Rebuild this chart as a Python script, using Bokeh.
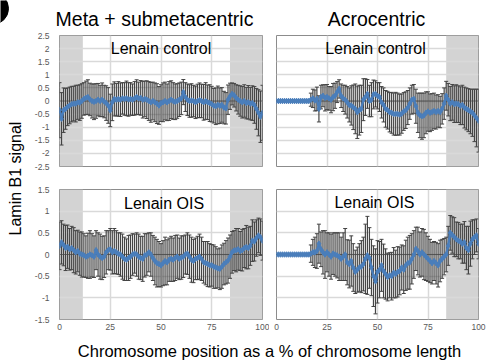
import math
from bokeh.plotting import figure
from bokeh.layouts import column, row
from bokeh.models import (Range1d, FixedTicker, NumeralTickFormatter, BoxAnnotation,
                          Span, Label, Whisker, ColumnDataSource, TeeHead)
from bokeh.embed import file_html
from bokeh.resources import INLINE

# ---------------- data ----------------
position = list(range(0, 101))  # % of chromosome length

meta_control_mean = [
    -0.35, -0.68, -0.35, -0.30, -0.22, -0.17, -0.12, -0.10, -0.10, -0.05,
    -0.06, 0.00, 0.08, 0.12, 0.15, 0.06, 0.00, -0.03, 0.00, 0.05,
    0.00, 0.05, -0.02, -0.08, -0.17, -0.36, -0.05, 0.08, 0.05, 0.08,
    0.05, 0.10, 0.08, 0.10, 0.06, 0.08, 0.05, 0.10, 0.15, 0.10,
    0.12, 0.05, 0.08, 0.05, 0.00, -0.05, 0.00, -0.05, -0.10, -0.17,
    -0.08, -0.05, 0.00, -0.05, 0.00, 0.05, 0.00, -0.03, 0.00, 0.05,
    0.10, 0.34, 0.15, 0.05, 0.00, 0.02, 0.00, -0.05, 0.00, 0.03,
    0.00, -0.05, 0.00, -0.05, -0.08, -0.12, -0.18, -0.20, -0.15, -0.18,
    -0.15, -0.25, -0.28, 0.05, 0.18, 0.27, 0.22, 0.12, 0.05, 0.00,
    -0.05, 0.00, -0.08, -0.05, -0.10, -0.08, -0.15, -0.30, -0.45, -0.60,
    -0.45]
meta_control_sd = [
    1.05, 1.00, 0.85, 0.78, 0.72, 0.70, 0.68, 0.66, 0.70, 0.65,
    0.68, 0.66, 0.62, 0.64, 0.66, 0.62, 0.65, 0.68, 0.66, 0.62,
    0.60, 0.64, 0.62, 0.66, 0.68, 0.62, 0.70, 0.65, 0.62, 0.66,
    0.64, 0.60, 0.62, 0.66, 0.64, 0.62, 0.60, 0.64, 0.66, 0.62,
    0.66, 0.70, 0.68, 0.72, 0.74, 0.76, 0.72, 0.74, 0.76, 0.72,
    0.70, 0.74, 0.72, 0.70, 0.74, 0.72, 0.70, 0.68, 0.66, 0.64,
    0.62, 0.48, 0.55, 0.60, 0.62, 0.64, 0.60, 0.62, 0.64, 0.66,
    0.64, 0.68, 0.70, 0.66, 0.70, 0.68, 0.66, 0.70, 0.72, 0.68,
    0.66, 0.62, 0.60, 0.56, 0.50, 0.42, 0.45, 0.50, 0.55, 0.58,
    0.60, 0.62, 0.60, 0.64, 0.62, 0.66, 0.70, 0.78, 0.88, 0.98,
    1.05]

acro_control_mean = [
    0, 0, 0, 0, 0, 0, 0, 0, 0, 0,
    0, 0, 0, 0, 0, 0, 0, 0.05, 0.10, 0.02,
    0.08, -0.30, 0.15, 0.20, 0.12, 0.15, 0.10, 0.05, 0.15, 0.20,
    0.34, 0.46, 0.20, 0.10, 0.05, -0.05, -0.15, -0.17, -0.24, -0.30,
    -0.43, -0.35, -0.30, 0.05, 0.15, 0.27, 0.00, 0.05, 0.25, 0.27,
    0.20, 0.15, -0.05, -0.15, -0.30, -0.35, -0.43, -0.45, -0.50, -0.49,
    -0.50, -0.52, -0.48, -0.40, -0.35, -0.25, -0.10, 0.05, 0.08, -0.20,
    -0.45, -0.55, -0.58, -0.55, -0.45, -0.40, -0.45, -0.42, -0.38, -0.42,
    -0.38, -0.42, -0.30, -0.10, 0.20, 0.05, -0.10, -0.05, -0.12, -0.10,
    -0.12, -0.18, -0.15, -0.25, -0.30, -0.35, -0.40, -0.45, -0.55, -0.65,
    -0.75]
acro_control_sd = [
    0, 0, 0, 0, 0, 0, 0, 0, 0, 0,
    0, 0, 0, 0, 0, 0, 0, 0.25, 0.35, 0.40,
    0.45, 0.50, 0.45, 0.42, 0.50, 0.48, 0.45, 0.50, 0.52, 0.48,
    0.40, 0.35, 0.45, 0.50, 0.55, 0.60, 0.65, 0.75, 0.85, 0.95,
    1.00, 0.95, 0.90, 0.80, 0.70, 0.55, 0.60, 0.65, 0.55, 0.50,
    0.50, 0.55, 0.60, 0.65, 0.70, 0.72, 0.75, 0.78, 0.80, 0.82,
    0.80, 0.78, 0.75, 0.72, 0.70, 0.65, 0.60, 0.55, 0.55, 0.65,
    0.75, 0.85, 0.88, 0.85, 0.80, 0.75, 0.72, 0.70, 0.68, 0.65,
    0.62, 0.60, 0.58, 0.60, 0.55, 0.62, 0.65, 0.68, 0.70, 0.72,
    0.70, 0.72, 0.75, 0.78, 0.80, 0.82, 0.85, 0.90, 1.00, 1.10,
    1.20]

meta_ois_mean = [
    0.20, 0.28, 0.22, 0.15, 0.18, 0.12, 0.15, 0.10, 0.05, 0.08,
    0.02, 0.00, -0.02, -0.05, -0.03, 0.00, -0.02, -0.05, 0.10, 0.00,
    -0.05, -0.08, -0.05, 0.05, 0.10, 0.12, 0.05, 0.08, 0.05, 0.02,
    0.00, -0.05, -0.10, -0.12, -0.08, -0.05, 0.00, 0.02, 0.00, -0.05,
    -0.08, -0.10, -0.02, 0.00, 0.05, 0.00, -0.08, -0.15, -0.20, -0.22,
    -0.25, -0.20, -0.15, -0.18, -0.12, -0.10, -0.12, -0.08, -0.05, -0.10,
    -0.07, -0.05, 0.00, 0.02, -0.05, -0.12, -0.15, -0.10, -0.08, -0.05,
    -0.10, -0.18, -0.20, -0.22, -0.25, -0.25, -0.28, -0.30, -0.32, -0.33,
    -0.28, -0.22, -0.18, -0.14, -0.05, 0.05, 0.09, 0.10, 0.12, 0.08,
    0.10, 0.15, 0.17, 0.15, 0.20, 0.32, 0.30, 0.38, 0.44, 0.40,
    0.32]
meta_ois_sd = [
    0.55, 0.50, 0.48, 0.52, 0.50, 0.48, 0.50, 0.52, 0.50, 0.48,
    0.50, 0.52, 0.50, 0.48, 0.52, 0.55, 0.50, 0.48, 0.45, 0.50,
    0.52, 0.50, 0.48, 0.50, 0.45, 0.48, 0.50, 0.52, 0.50, 0.48,
    0.50, 0.52, 0.50, 0.48, 0.52, 0.50, 0.48, 0.45, 0.50, 0.52,
    0.50, 0.52, 0.50, 0.48, 0.45, 0.50, 0.52, 0.55, 0.55, 0.52,
    0.50, 0.52, 0.55, 0.52, 0.50, 0.52, 0.50, 0.52, 0.50, 0.48,
    0.50, 0.48, 0.45, 0.48, 0.50, 0.52, 0.50, 0.48, 0.50, 0.52,
    0.50, 0.48, 0.50, 0.52, 0.50, 0.48, 0.50, 0.48, 0.45, 0.48,
    0.50, 0.48, 0.50, 0.52, 0.50, 0.48, 0.46, 0.50, 0.48, 0.45,
    0.48, 0.45, 0.50, 0.48, 0.45, 0.48, 0.45, 0.42, 0.40, 0.42,
    0.45]

acro_ois_mean = [
    0, 0, 0, 0, 0, 0, 0, 0, 0, 0,
    0, 0, 0, 0, 0, 0, 0, 0.02, 0.05, 0.05,
    0.08, 0.25, 0.12, 0.05, 0.00, 0.05, 0.00, -0.05, 0.02, 0.00,
    -0.02, -0.05, -0.10, -0.05, 0.00, -0.18, -0.22, -0.15, -0.30, -0.40,
    -0.35, -0.30, -0.28, -0.22, -0.10, -0.02, -0.08, -0.30, -0.50, -0.62,
    -0.40, -0.35, -0.25, -0.38, -0.45, -0.52, -0.48, -0.50, -0.42, -0.45,
    -0.40, -0.38, -0.30, -0.35, -0.25, -0.20, -0.18, -0.10, 0.00, 0.13,
    0.08, 0.00, 0.05, 0.00, -0.05, -0.10, -0.15, -0.20, -0.15, -0.20,
    -0.25, -0.15, -0.10, -0.05, 0.00, 0.20, 0.50, 0.45, 0.40, 0.35,
    0.32, 0.30, 0.25, 0.28, 0.15, 0.10, 0.25, 0.35, 0.40, 0.44,
    0.25]
acro_ois_sd = [
    0, 0, 0, 0, 0, 0, 0, 0, 0, 0,
    0, 0, 0, 0, 0, 0, 0, 0.20, 0.30, 0.35,
    0.40, 0.45, 0.40, 0.50, 0.55, 0.45, 0.50, 0.52, 0.48, 0.50,
    0.52, 0.55, 0.50, 0.55, 0.60, 0.52, 0.55, 0.58, 0.55, 0.50,
    0.52, 0.55, 0.60, 0.62, 0.80, 0.90, 0.70, 0.65, 0.70, 0.75,
    0.72, 0.65, 0.60, 0.62, 0.58, 0.55, 0.52, 0.55, 0.58, 0.55,
    0.58, 0.55, 0.52, 0.55, 0.58, 0.60, 0.62, 0.58, 0.55, 0.50,
    0.55, 0.52, 0.55, 0.58, 0.55, 0.52, 0.50, 0.48, 0.45, 0.48,
    0.50, 0.48, 0.45, 0.42, 0.40, 0.45, 0.40, 0.42, 0.45, 0.40,
    0.42, 0.40, 0.45, 0.48, 0.50, 0.55, 0.52, 0.45, 0.40, 0.38,
    0.35]

meta_shaded = [(0, 11.5), (84, 100)]
acro_shaded = [(84, 100)]
top_y_ticks = [-2.5, -2, -1.5, -1, -0.5, 0, 0.5, 1, 1.5, 2, 2.5]
bottom_y_ticks = [-1.5, -1, -0.5, 0, 0.5, 1, 1.5]
x_ticks = [0, 25, 50, 75, 100]

column_titles = ["Meta + submetacentric", "Acrocentric"]
row_labels = ["Lenain control", "Lenain OIS"]
y_title = "Lamin B1 signal"
x_title = "Chromosome position as a % of chromosome length"

# ---------------- style ----------------
FONT = "Liberation Sans"
BLUE = "#4a7ebb"
BAR = "#444444"
TICK_COLOR = "#595959"


def bare_figure(width, height, xr, yr):
    f = figure(width=width, height=height, x_range=Range1d(*xr), y_range=Range1d(*yr),
               output_backend="svg", toolbar_location=None, title_location=None,
               min_border=0, min_border_left=0, min_border_right=0,
               min_border_top=0, min_border_bottom=0,
               x_axis_location=None, y_axis_location=None)
    f.grid.visible = False
    f.outline_line_color = None
    return f


def make_panel(mean, sd, shaded, y_lo, y_hi, y_ticks, show_y, show_x,
               width, height, borders, label, label_pos):
    bl, br, bt, bb = borders
    p = figure(width=width, height=height, x_range=Range1d(0, 100),
               y_range=Range1d(y_lo, y_hi), output_backend="svg",
               toolbar_location=None, title_location=None,
               min_border_left=bl, min_border_right=br,
               min_border_top=bt, min_border_bottom=bb)
    p.outline_line_color = "#8c8c8c"
    p.outline_line_width = 1
    p.background_fill_color = "white"
    p.border_fill_color = "white"

    for (a, b) in shaded:
        p.add_layout(BoxAnnotation(left=a, right=b, fill_color="#d3d3d3",
                                   fill_alpha=1.0, line_color=None, level="image"))

    p.xaxis.ticker = FixedTicker(ticks=x_ticks)
    p.yaxis.ticker = FixedTicker(ticks=y_ticks)
    p.xgrid.ticker = FixedTicker(ticks=x_ticks)
    p.ygrid.ticker = FixedTicker(ticks=y_ticks)
    for g in (p.xgrid, p.ygrid):
        g.grid_line_color = "#d9d9d9"
        g.grid_line_width = 1.5
        g.level = "underlay"

    for ax in (p.xaxis, p.yaxis):
        ax.axis_line_color = None
        ax.major_tick_line_color = None
        ax.minor_tick_line_color = None
        ax.major_tick_out = 0
        ax.major_tick_in = 0
        ax.major_label_text_font = FONT
        ax.major_label_text_font_size = "8.5px"
        ax.major_label_text_color = TICK_COLOR
    p.yaxis.formatter = NumeralTickFormatter(format="0.[0]")
    p.yaxis.major_label_standoff = 10
    p.xaxis.major_label_standoff = 4
    p.xaxis.visible = show_x
    p.yaxis.visible = show_y

    p.add_layout(Span(location=0, dimension="width", line_color="#6b6b6b",
                      line_width=1, level="underlay"))

    upper = [m + s for m, s in zip(mean, sd)]
    lower = [m - s for m, s in zip(mean, sd)]
    src = ColumnDataSource(dict(x=position, mean=mean, upper=upper, lower=lower))
    p.add_layout(Whisker(source=src, base="x", upper="upper", lower="lower",
                         line_color=BAR, line_width=1.2, level="underlay",
                         upper_head=TeeHead(size=4, line_color=BAR, line_width=1),
                         lower_head=TeeHead(size=4, line_color=BAR, line_width=1)))

    p.line("x", "mean", source=src, line_color=BLUE, line_width=2.4)
    p.scatter("x", "mean", source=src, marker="diamond", size=5.5,
              fill_color=BLUE, line_color=BLUE)

    p.add_layout(Label(x=label_pos[0], y=label_pos[1], text=label, text_font=FONT,
                       text_font_size="16px", text_color="black",
                       text_align="center", text_baseline="middle"))
    return p


tl = make_panel(meta_control_mean, meta_control_sd, meta_shaded, -2.5, 2.5, top_y_ticks,
                True, False, 239, 150, (29, 7, 5, 14), row_labels[0], (50, 2.02))
tr = make_panel(acro_control_mean, acro_control_sd, acro_shaded, -2.5, 2.5, top_y_ticks,
                False, False, 217, 150, (7, 8, 5, 14), row_labels[0], (49, 2.02))
bl = make_panel(meta_ois_mean, meta_ois_sd, meta_shaded, -1.5, 1.5, bottom_y_ticks,
                True, True, 239, 155, (29, 7, 9, 16), row_labels[1], (51.5, 1.18))
br = make_panel(acro_ois_mean, acro_ois_sd, acro_shaded, -1.5, 1.5, bottom_y_ticks,
                False, True, 217, 155, (7, 8, 9, 16), row_labels[1], (48.5, 1.19))

# top strip: column titles (pixel coordinates: x from page left, y from strip bottom)
top = bare_figure(456, 30, (30, 486), (0, 30))
top.add_layout(Label(x=154, y=11.5, text=column_titles[0], text_font=FONT,
                     text_font_size="19.5px", text_color="black",
                     text_align="center", text_baseline="middle"))
top.add_layout(Label(x=376, y=11.5, text=column_titles[1], text_font=FONT,
                     text_font_size="19.5px", text_color="black",
                     text_align="center", text_baseline="middle"))

# left strip: shared y title and panel-letter badge
left = bare_figure(30, 335, (0, 30), (0, 335))
left.circle(x=[-8], y=[327], radius=16, fill_color="black", line_color="black")
left.add_layout(Label(x=15, y=157, text=y_title, angle=math.pi / 2, text_font=FONT,
                      text_font_size="16px", text_color="black",
                      text_align="center", text_baseline="middle"))

# bottom strip: shared x title
bottom = bare_figure(486, 25, (0, 486), (0, 25))
bottom.add_layout(Label(x=269, y=10, text=x_title, text_font=FONT,
                        text_font_size="16.5px", text_color="black",
                        text_align="center", text_baseline="middle"))

layout = column(row(left, column(top, row(tl, tr), row(bl, br))), bottom)

open("out.html", "w").write(file_html(layout, INLINE))
